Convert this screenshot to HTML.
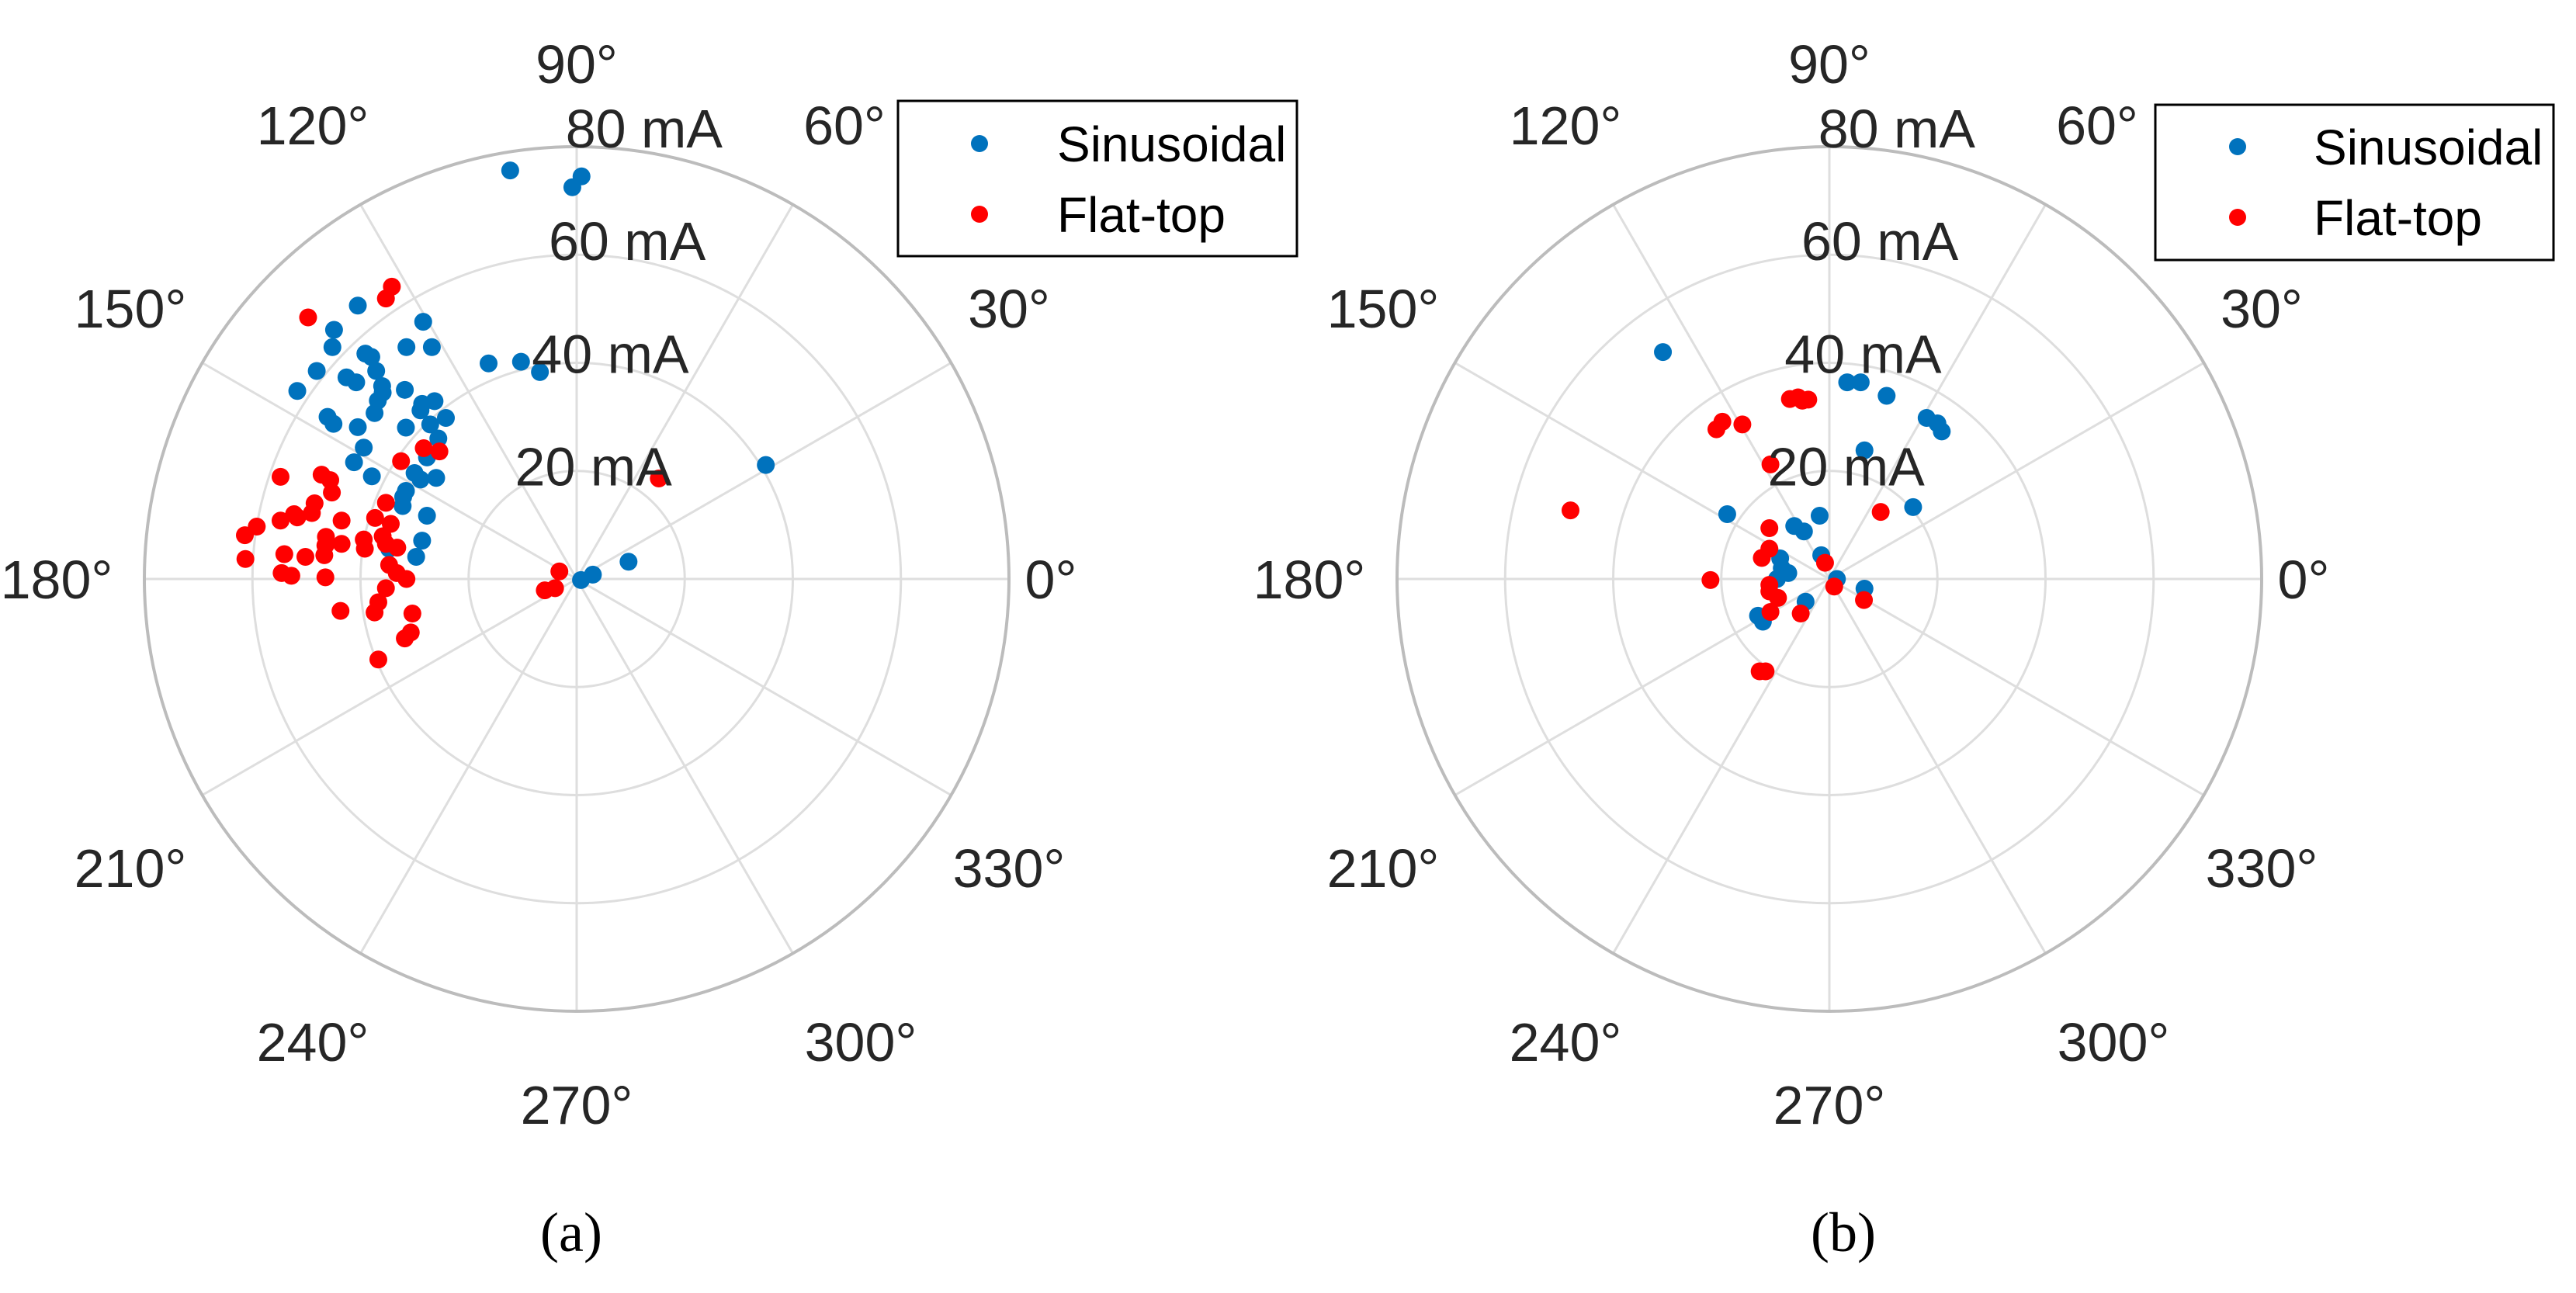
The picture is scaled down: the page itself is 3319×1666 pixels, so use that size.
<!DOCTYPE html>
<html><head><meta charset="utf-8"><style>
html,body{margin:0;padding:0;background:#fff;}
svg{display:block;}
text{font-family:"Liberation Sans",Arial,sans-serif;}
</style></head><body>
<svg id="chart" width="3319" height="1666" viewBox="0 0 3319 1666" xmlns="http://www.w3.org/2000/svg">
<g id="pa"></g>
<g id="pb"></g>
<rect x="1157" y="130" width="514" height="200" fill="#fff" stroke="#000" stroke-width="3"/>
<circle cx="1262" cy="185" r="11" fill="#0072BD"/>
<text x="1362" y="208" font-size="64" fill="#000">Sinusoidal</text>
<circle cx="1262" cy="276" r="11" fill="#FF0000"/>
<text x="1362" y="299" font-size="64" fill="#000">Flat-top</text>
<rect x="2777" y="135" width="513" height="200" fill="#fff" stroke="#000" stroke-width="3"/>
<circle cx="2883" cy="189" r="11" fill="#0072BD"/>
<text x="2981" y="212" font-size="64" fill="#000">Sinusoidal</text>
<circle cx="2883" cy="280" r="11" fill="#FF0000"/>
<text x="2981" y="303" font-size="64" fill="#000">Flat-top</text>
<text x="736" y="1612" font-size="72" text-anchor="middle" style="font-family:'Liberation Serif',serif" fill="#000">(a)</text>
<text x="2375" y="1612" font-size="72" text-anchor="middle" style="font-family:'Liberation Serif',serif" fill="#000">(b)</text>
</svg>
<script>
// radial ticks (mA) and angular ticks (deg)
const rTicks = [20, 40, 60, 80];
const thetaTicks = [0, 30, 60, 90, 120, 150, 180, 210, 240, 270, 300, 330];
const rMax = 80;
// Chart (a): phasor components in mA (real, imaginary)
const aSinRe = [-12.3,-0.8,0.9,-16.3,-10.3,-6.8,-40.5,-44.9,-45.2,-28.4,-31.5,-26.8,-48.1,-39.1,-38.0,-37.1,-42.6,-40.8,-36.0,-35.9,-31.8,-51.7,-36.8,-37.4,-28.6,-26.3,-28.9,-46.1,-45.0,-40.5,-31.6,-27.1,-24.2,-25.6,-27.7,-39.4,-41.2,-37.9,-30.0,-28.9,-26.0,-31.6,-32.1,-32.2,-27.7,-28.6,-29.7,-34.7,9.6,3.0,0.8,35.0];
const aSinIm = [75.6,72.5,74.5,39.9,40.2,38.3,50.6,46.1,42.9,47.6,42.9,42.9,38.5,41.7,41.1,38.5,37.3,36.4,35.7,34.5,35.0,34.8,33.0,30.7,32.4,32.9,31.2,30.0,28.7,28.1,28.0,28.6,29.8,26.0,22.5,24.3,21.6,19.0,19.6,18.4,18.7,16.3,15.2,13.5,11.7,7.1,4.1,5.6,3.2,0.8,-0.2,21.1];
const aFlatRe = [-34.2,-35.3,-49.7,-32.5,-28.3,-25.4,-54.8,-47.2,-45.6,-45.3,-35.3,-48.5,-49.0,-52.3,-51.7,-54.8,-59.2,-61.4,-43.5,-37.3,-34.4,-35.9,-35.3,-46.4,-46.5,-43.5,-39.4,-39.2,-33.2,-54.1,-50.2,-46.7,-61.3,-34.7,-33.3,-31.5,-54.6,-52.8,-46.5,-35.3,-36.7,-37.4,-43.7,-30.4,-30.7,-31.8,-36.7,15.2,-3.2,-4.0,-5.9];
const aFlatIm = [54.1,51.9,48.4,21.8,24.2,23.6,18.9,19.3,18.3,16.0,14.1,14.0,12.2,12.0,11.4,10.8,9.7,8.1,10.8,11.3,10.2,7.9,6.5,7.8,6.2,6.5,7.3,5.6,5.8,4.6,4.1,4.4,3.7,2.6,1.1,0.0,1.1,0.6,0.3,-1.7,-4.3,-6.2,-5.9,-6.4,-9.9,-11.0,-14.9,18.6,1.4,-1.7,-2.1];
// Chart (b)
const bSinRe = [-30.8,3.3,5.8,10.6,18.0,20.0,20.8,6.5,15.5,-18.9,-1.8,-6.5,-4.7,-1.5,-9.1,-8.8,-7.6,-9.7,1.4,6.5,-4.4,-13.2,-12.3];
const bSinIm = [42.0,36.4,36.4,33.9,29.8,28.8,27.3,23.8,13.3,12.0,11.7,9.8,8.8,4.4,3.8,2.0,1.1,0.0,0.0,-1.8,-4.2,-6.8,-7.9];
const bFlatRe = [-7.3,-5.8,-5.0,-3.9,-20.9,-19.8,-16.1,-10.9,-47.9,9.5,-11.1,-11.1,-12.5,-0.8,-22.0,-11.1,-11.1,-9.5,0.9,6.4,-10.9,-5.3,-12.9,-11.8];
const bFlatIm = [33.3,33.6,33.0,33.2,27.7,29.1,28.6,21.2,12.7,12.4,9.4,5.6,3.9,3.0,-0.2,-1.1,-2.3,-3.5,-1.4,-3.9,-6.1,-6.4,-17.1,-17.1];

const NS = "http://www.w3.org/2000/svg";
const R = 557;
// label centre offsets (layout) for each angular tick, in px
const labelOffX = {0:611,30:557,60:345,90:0,120:-340,150:-575,180:-670,210:-575,240:-340,270:0,300:366,330:557};
const labelOffY = {0:0,30:-349,60:-585,90:-664,120:-585,150:-349,180:0,210:372,240:596,270:677,300:596,330:372};
function mk(parent, tag, attrs) {
  const e = document.createElementNS(NS, tag);
  for (const k in attrs) e.setAttribute(k, attrs[k]);
  parent.appendChild(e);
  return e;
}
function drawPolar(gid, cx, cy, sinRe, sinIm, flatRe, flatIm, suffix) {
  const g = document.getElementById(gid);
  const scale = v => v / rMax * R;
  const px = re => cx + scale(re);
  const py = im => cy - scale(im);
  thetaTicks.forEach(t => {
    const a = t * Math.PI / 180;
    const l = mk(g, 'line', {x1: cx, y1: cy, x2: cx + R * Math.cos(a), y2: cy - R * Math.sin(a), stroke: '#dedede', 'stroke-width': 3});
    
    
  });
  rTicks.forEach(r => {
    const outer = r === rMax;
    const c = mk(g, 'circle', {cx: cx, cy: cy, r: scale(r), fill: 'none', stroke: outer ? '#bcbcbc' : '#dedede', 'stroke-width': outer ? 4 : 3});
    
    
  });
  thetaTicks.forEach(t => {
    const tx = mk(g, 'text', {x: cx + labelOffX[t], y: cy + labelOffY[t] + 25, 'font-size': 70, 'text-anchor': 'middle', fill: '#262626'});
    tx.textContent = t + '°';
    
    
  });
  const la = 81.5 * Math.PI / 180;
  function series(re, im, color, name) {
    re.forEach((v, i) => {
      const d = mk(g, 'circle', {cx: px(v), cy: py(im[i]), r: 11.5, fill: color});
      
      
    });
  }
  series(sinRe, sinIm, '#0072BD', 'sinusoidal');
  series(flatRe, flatIm, '#FF0000', 'flat-top');
  rTicks.forEach(r => {
    const rl = scale(r) * 1.055;
    const tx = mk(g, 'text', {x: cx + rl * Math.cos(la), y: cy - rl * Math.sin(la) + 25, 'font-size': 70, 'text-anchor': 'middle', fill: '#262626'});
    tx.textContent = r + ' mA';
    
    
  });
}
drawPolar('pa', 743, 746, aSinRe, aSinIm, aFlatRe, aFlatIm, 'a');
drawPolar('pb', 2357, 746, bSinRe, bSinIm, bFlatRe, bFlatIm, 'b');
</script>
</body></html>
